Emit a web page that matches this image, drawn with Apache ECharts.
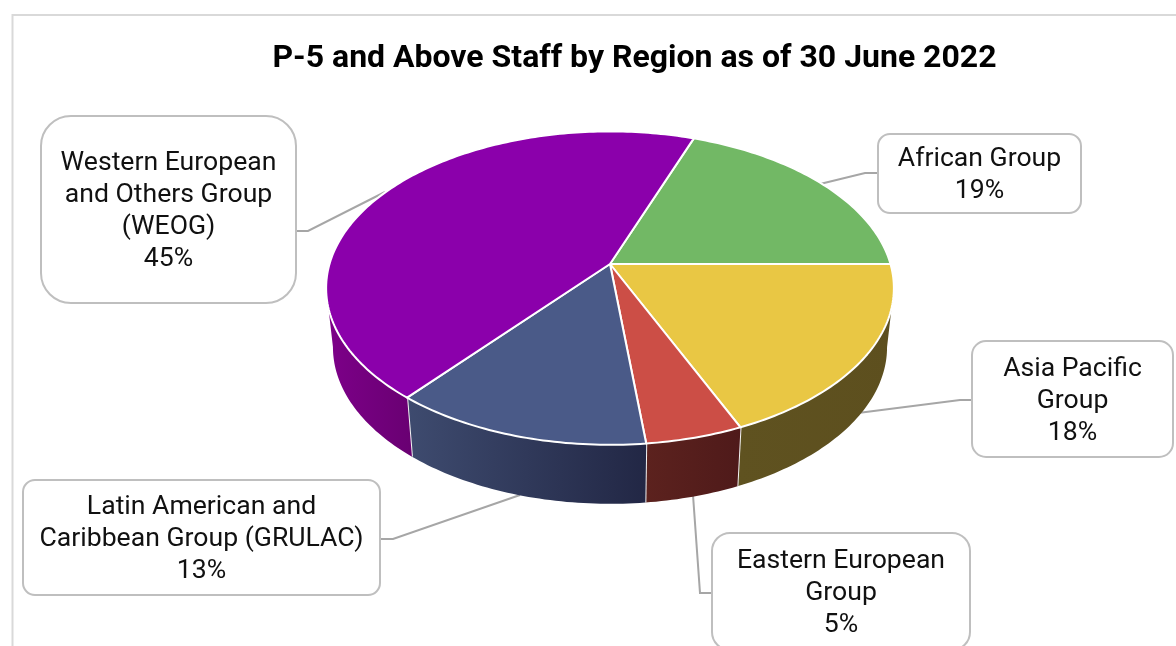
<!DOCTYPE html>
<html><head><meta charset="utf-8">
<style>html,body{margin:0;padding:0;background:#fff}#c{width:1176px;height:646px}</style>
<script src="https://cdn.jsdelivr.net/npm/echarts@6/dist/echarts.min.js"></script>
</head><body><div id="c"></div>
<script>
const chartTitle = 'P-5 and Above Staff by Region as of 30 June 2022';
const categories = ['African Group', 'Asia Pacific\nGroup', 'Eastern European\nGroup', 'Latin American and\nCaribbean Group (GRULAC)', 'Western European\nand Others Group\n(WEOG)'];
const shares = [19.45, 18.45, 4.8, 12.75, 44.55];

const topColors = ['#72b865', '#e9c744', '#cc4e46', '#4a5a88', '#8b00ab'];
const wallColors = [
  ['#4a7a42', '#4a7a42'], ['#5f5220', '#5d4f1e'], ['#5c221e', '#4f1a1a'],
  ['#3e4b6f', '#222745'], ['#7d0089', '#690072']
];
const boxes = [
  {x: 878, y: 134, w: 203, h: 79, r: 12, leader: [[878, 173], [865, 173], [820, 184]]},
  {x: 972, y: 341, w: 201, h: 116, r: 14, leader: [[972, 400], [960, 400], [858, 413]]},
  {x: 712, y: 533, w: 258, h: 117, r: 18, leader: [[712, 593], [700, 593], [693, 495]]},
  {x: 23, y: 480, w: 357, h: 115, r: 12, leader: [[380, 539], [393, 539], [520, 495]]},
  {x: 41, y: 116, w: 255, h: 187, r: 30, leader: [[296, 231], [308, 231], [385, 192]]}
];

// projection of the tilted disc
const CX = 610, CY = 264, RX = 280.5, RY = 153, K = 0.1538, DEPTH = 59, SHRINK = 0.976, START = 70;
const project = deg => {
  const a = deg * Math.PI / 180, u = Math.cos(a), v = Math.sin(a), w = 1 + K * v;
  return [CX + RX * u / w, CY - RY * v / w];
};
const lower = p => [CX + (p[0] - CX) * SHRINK, p[1] + DEPTH];
const total = shares.reduce((a, b) => a + b, 0);
let acc = START;
const slices = shares.map(s => { const from = acc; acc -= s / total * 360; return {from, to: acc}; });
const arc = (from, to) => { // decreasing angle
  const pts = [];
  const n = Math.max(1, Math.ceil(Math.abs(from - to)));
  for (let i = 0; i <= n; i++) pts.push(project(from + (to - from) * i / n));
  return pts;
};
// wall angle window (front of the silhouette)
const TAN = Math.asin(K) * 180 / Math.PI;
const wallRange = sl => {
  const ranges = [];
  [0, -360].forEach(off => {
    const a = Math.min(sl.from - off, -TAN), b = Math.max(sl.to - off, -180 + TAN);
    if (a > b) ranges.push([a, b]);
  });
  return ranges[0];
};
const seriesData = categories.map((c, i) => ({name: c, value: shares[i]}));
const common = {type: 'custom', coordinateSystem: 'none', silent: true, animation: false, data: seriesData, clip: false};

const option = {
  animation: false,
  backgroundColor: '#fff',
  title: {text: chartTitle, left: 629.5, top: 38, textAlign: 'center',
    textStyle: {fontFamily: 'Roboto', fontWeight: 'bold', fontSize: 32, color: '#000'}},
  graphic: [{type: 'rect', z: 0, shape: {x: 12.5, y: 15, width: 1300, height: 800},
    style: {fill: '#fff', stroke: '#d9d9d9', lineWidth: 2}}],
  series: [
    Object.assign({}, common, {z: 2, name: 'leaders', renderItem: (p) => ({
      type: 'polyline', shape: {points: boxes[p.dataIndex].leader},
      style: {fill: 'none', stroke: '#a6a6a6', lineWidth: 2}
    })}),
    Object.assign({}, common, {z: 3, name: 'walls', renderItem: (p) => {
      const r = wallRange(slices[p.dataIndex]);
      if (!r) return {type: 'group', children: []};
      const top = arc(r[0], r[1]), bot = top.map(lower).reverse();
      const c = wallColors[p.dataIndex], kids = [{
        type: 'polygon', shape: {points: top.concat(bot)},
        style: {fill: {type: 'linear', x: 0, y: 0, x2: 1, y2: 0, colorStops: [{offset: 0, color: c[0]}, {offset: 1, color: c[1]}]}}
      }];
      const e = project(slices[p.dataIndex].to);
      if (e[1] > CY + 24 && p.dataIndex < categories.length - 1) {
        kids.push({type: 'line', shape: {x1: e[0], y1: e[1], x2: lower(e)[0], y2: lower(e)[1]},
          style: {stroke: '#f2f2f2', lineWidth: 2}});
      }
      return {type: 'group', children: kids};
    }}),
    Object.assign({}, common, {z: 4, name: 'tops', renderItem: (p) => {
      const sl = slices[p.dataIndex];
      return {type: 'polygon', shape: {points: [[CX, CY]].concat(arc(sl.from, sl.to))},
        style: {fill: topColors[p.dataIndex], stroke: '#fff', lineWidth: 2, lineJoin: 'round'}};
    }}),
    Object.assign({}, common, {z: 5, name: 'labels', renderItem: (p) => {
      const b = boxes[p.dataIndex], i = p.dataIndex;
      return {type: 'group', children: [
        {type: 'rect', shape: {x: b.x, y: b.y, width: b.w, height: b.h, r: b.r},
          style: {fill: '#fff', stroke: '#bfbfbf', lineWidth: 2}},
        {type: 'text', style: {
          text: categories[i] + '\n' + Math.round(shares[i]) + '%',
          x: b.x + b.w / 2, y: b.y + b.h / 2 + 2, align: 'center', verticalAlign: 'middle',
          fontFamily: 'Roboto', fontSize: 26.6, lineHeight: 32, fill: '#111'
        }}
      ]};
    }})
  ]
};
echarts.init(document.getElementById('c'), null, {renderer: 'canvas'}).setOption(option);
</script></body></html>
